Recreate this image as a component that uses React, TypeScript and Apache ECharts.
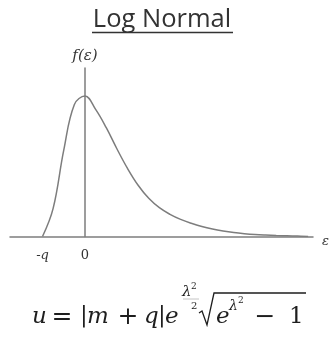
import React, { useEffect, useRef } from "react";
import * as echarts from "echarts";

// Log-normal density sketch: ε shifted so that the curve starts at -q
const epsValues = [-1, -0.75, -0.5, -0.25, 0, 0.25, 0.5, 0.75, 1, 1.25, 1.5, 1.75, 2, 2.25, 2.5, 2.75, 3, 3.25, 3.5, 3.75, 4, 4.25, 4.5, 4.75, 5, 5.25];
const densityValues = [0, 0.2, 0.615, 0.94, 1.0, 0.905, 0.775, 0.625, 0.485, 0.365, 0.272, 0.205, 0.158, 0.122, 0.094, 0.071, 0.053, 0.039, 0.028, 0.02, 0.014, 0.01, 0.007, 0.005, 0.003, 0];

const tickValues = [-1, 0];
const tickLabels = ["{i|-q}", "{n|0}"];

const TITLE = "Log Normal";
const GRAY = "#7d7d7d";
const INK = "#1e1e1e";
const SERIF = "'DejaVu Serif', serif";

// formula pieces: text, x, y (middle), size, italic, align
const formula: [string, number, number, number, boolean, string][] = [
  ["u", 32, 315, 23, true, "left"],
  ["=", 62, 315, 25, false, "center"],
  ["|", 80, 314, 23, false, "left"],
  ["m", 87, 315, 23, true, "left"],
  ["+", 128, 315, 25, false, "center"],
  ["q", 144, 315, 23, true, "left"],
  ["|", 158, 314, 23, false, "left"],
  ["e", 165, 315, 23, true, "left"],
  ["λ", 182, 291, 15, true, "left"],
  ["2", 191, 286, 9, false, "left"],
  ["2", 191, 305, 10, false, "left"],
  ["e", 216, 315, 23, true, "left"],
  ["λ", 229, 305, 14, true, "left"],
  ["2", 238, 300, 9, false, "left"],
  ["−", 265, 315, 25, false, "center"],
  ["1", 289, 315, 23, false, "left"],
];

export default function App() {
  const ref = useRef<HTMLDivElement>(null);
  useEffect(() => {
    const chart = echarts.init(ref.current!, undefined, { renderer: "svg" });
    const data = epsValues.map((x, i) => [x, densityValues[i]]);
    const graphic: any[] = [
      {
        type: "text",
        x: 162,
        y: 4,
        style: { text: TITLE, font: "25.5px 'Open Sans', sans-serif", fill: "#333", textAlign: "center" },
      },
      { type: "line", shape: { x1: 92, y1: 32.5, x2: 233, y2: 32.5 }, style: { stroke: "#333", lineWidth: 1.5 } },
      // fraction bar of λ²/2
      { type: "line", shape: { x1: 183, y1: 299, x2: 199, y2: 299 }, style: { stroke: "#c4c4c4", lineWidth: 1 } },
      // radical sign with its overline
      {
        type: "polyline",
        shape: { points: [[199, 313], [202, 311], [207, 325], [214, 293], [306, 293]] },
        style: { stroke: INK, lineWidth: 1.3, fill: "none" },
      },
    ];
    formula.forEach(([t, x, y, s, it, align]) => {
      graphic.push({
        type: "text",
        x,
        y,
        style: {
          text: t,
          font: `${it ? "italic " : ""}${s}px ${SERIF}`,
          fill: INK,
          verticalAlign: "middle",
          align,
        },
      });
    });
    chart.setOption({
      animation: false,
      grid: { left: 10, right: 22, top: 68, bottom: 101.5, outerBoundsMode: "none" },
      xAxis: {
        type: "value",
        min: -1.765,
        max: 5.365,
        axisLine: { show: true, lineStyle: { color: GRAY, width: 1.5 } },
        axisTick: { show: false },
        splitLine: { show: false },
        axisLabel: {
          customValues: tickValues,
          margin: 11,
          formatter: (v: number) => tickLabels[tickValues.indexOf(v)] ?? "",
          rich: {
            i: { fontFamily: SERIF, fontStyle: "italic", fontSize: 13, color: "#333" },
            n: { fontFamily: SERIF, fontSize: 13, color: "#333" },
          },
        },
        name: "ε",
        nameLocation: "end",
        nameGap: 9,
        nameTextStyle: { fontFamily: SERIF, fontStyle: "italic", fontSize: 13, color: "#333", verticalAlign: "top", padding: [-3, 0, 0, 0] },
      },
      yAxis: {
        type: "value",
        min: 0,
        max: 1.2,
        axisLine: { show: true, onZero: true, lineStyle: { color: GRAY, width: 1.5 } },
        axisTick: { show: false },
        axisLabel: { show: false },
        splitLine: { show: false },
        name: "f(ε)",
        nameLocation: "end",
        nameGap: 6,
        nameTextStyle: { fontFamily: SERIF, fontStyle: "italic", fontSize: 15, color: "#333" },
      },
      series: [
        {
          type: "line",
          data,
          smooth: 0.4,
          showSymbol: false,
          lineStyle: { color: GRAY, width: 1.5 },
        },
      ],
      graphic,
    });
    return () => chart.dispose();
  }, []);
  return <div ref={ref} style={{ position: "fixed", left: 0, top: 0, width: 335, height: 338 }} />;
}
